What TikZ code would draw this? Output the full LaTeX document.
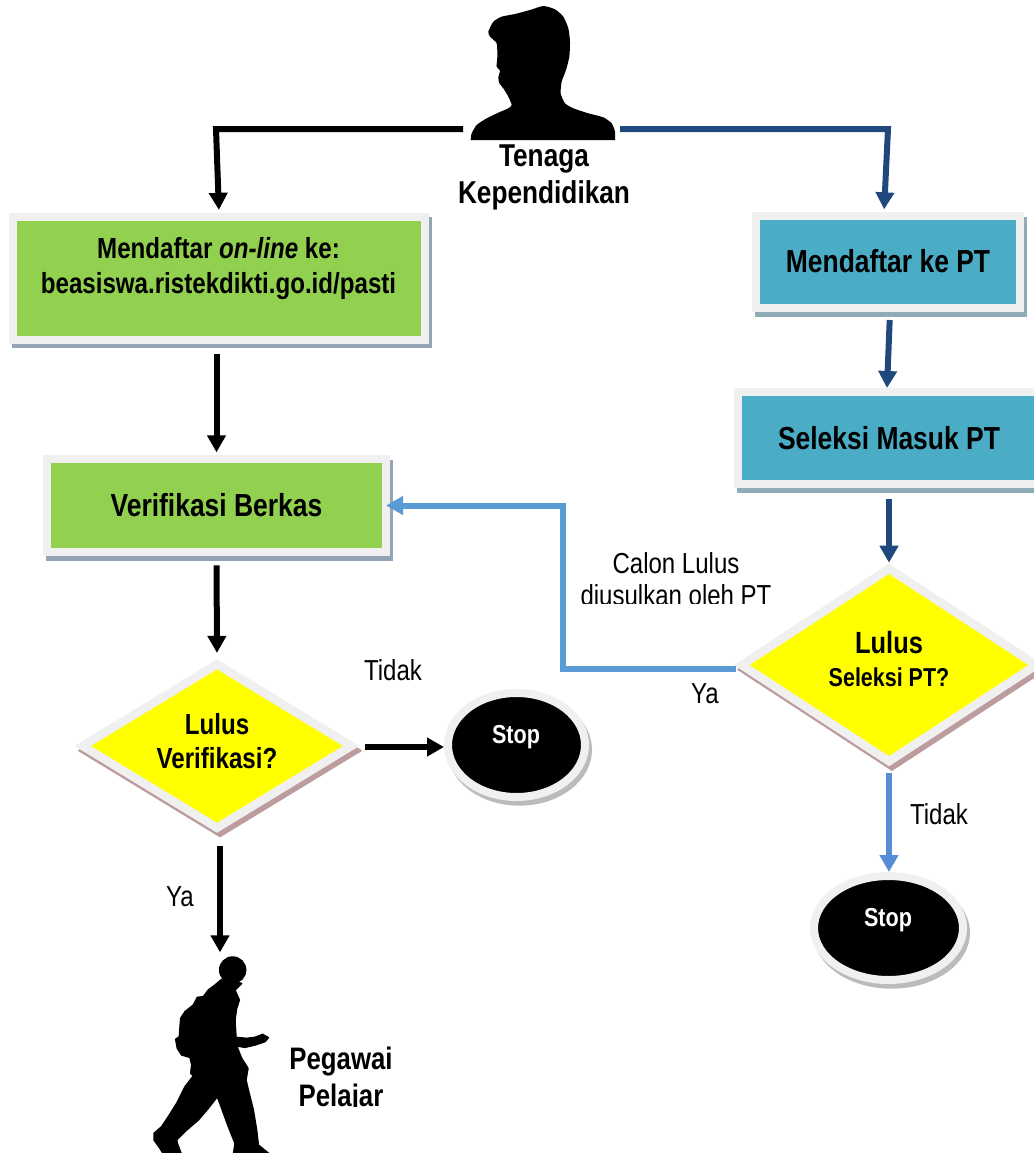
\documentclass[tikz,border=0pt]{standalone}
\usepackage{fontspec}
\setmainfont[FakeStretch=0.83]{Liberation Sans}
\usetikzlibrary{shapes.geometric,arrows.meta}
\definecolor{panelgrey}{HTML}{F0F0F0}
\definecolor{leaf}{HTML}{92D050}
\definecolor{teal}{HTML}{4BACC6}
\definecolor{leafshadow}{HTML}{95A3B7}
\definecolor{tealshadow}{HTML}{8FABB5}
\definecolor{roseshadow}{HTML}{BC9C9C}
\definecolor{greyshadow}{HTML}{BBBBBB}
\definecolor{navy}{HTML}{1F497D}
\definecolor{skyline}{HTML}{5B9BD5}
\definecolor{skydown}{HTML}{558ED5}
\definecolor{lemon}{HTML}{FFFF00}
\tikzset{
  cast/.style={preaction={draw=#1,fill=#1,transform canvas={xshift=2.25pt,yshift=-3.5pt}}},
  panel/.style={rectangle,draw=panelgrey,line width=6pt,fill=#1,inner sep=0pt,font=\fontsize{23.9}{26}\selectfont\bfseries},
  choice/.style={diamond,draw=panelgrey,line width=6.4pt,fill=lemon,inner sep=0pt,aspect=1.6,cast=roseshadow},
  halt/.style={ellipse,draw=panelgrey,line width=6pt,fill=black,inner sep=0pt,cast=greyshadow},
  conn/.style={line width=4.5pt,-{Triangle[width=13.5pt,length=12.75pt]},miter limit=10},
  thin/.style={font=\fontsize{21.7}{24.5}\selectfont,align=center,inner sep=0pt},
  stoptext/.style={font=\fontsize{19.5}{22}\selectfont\bfseries,text=white,inner sep=0pt},
  hidden/.style={inner sep=0pt,outer sep=0pt}
}
\begin{document}
\begin{tikzpicture}[x=.75pt,y=-.75pt]
\useasboundingbox (0,0) rectangle (1034,1153);
\clip (0,0) rectangle (1034,1153);
\fill[white] (0,0) rectangle (1034,1153);

% boxes
\node[panel=leaf,cast=leafshadow,minimum width=412*.75pt,minimum height=123*.75pt] (box1) at (219,278) {};
\node[font=\fontsize{21.8}{26.2}\selectfont\bfseries,align=center,inner sep=0pt] (box1t) at (218.5,268.5) {Mendaftar \textit{on-line} ke:\\beasiswa.ristekdikti.go.id/pasti};
\node[panel=leaf,cast=leafshadow,minimum width=339*.75pt,minimum height=93*.75pt] (box2) at (216.5,505.5) {\raisebox{1.2pt}{Verifikasi Berkas}};
\node[panel=teal,cast=tealshadow,minimum width=264*.75pt,minimum height=92*.75pt] (box3) at (888,262) {\raisebox{1.2pt}{Mendaftar ke PT}};
\node[panel=teal,cast=tealshadow,minimum width=302*.75pt,minimum height=92*.75pt] (box4) at (889,438) {\raisebox{.8pt}{Seleksi Masuk PT}};

% decisions
\node[choice,minimum width=272*.75pt,minimum height=167*.75pt] (ld) at (217,746) {};
\node[font=\fontsize{21.8}{25.2}\selectfont\bfseries,align=center,inner sep=0pt] (ldt) at (217,741) {Lulus\\Verifikasi?};
\node[choice,minimum width=298*.75pt,minimum height=196*.75pt] (rd) at (889,665) {};
\node[font=\fontsize{23}{24.8}\selectfont\bfseries,align=center,inner sep=0pt] (rdt) at (889,659) {Lulus\\{\fontsize{19.4}{24.8}\selectfont Seleksi PT?}};

% stops
\node[halt,minimum width=137*.75pt,minimum height=104*.75pt] (lstop) at (516.5,745) {};
\node[stoptext] (lstopt) at (516,737) {Stop};
\node[halt,minimum width=149*.75pt,minimum height=104*.75pt] (rstop) at (888.5,928) {};
\node[stoptext] (rstopt) at (888,920) {Stop};

% person
\node[hidden,minimum width=157*.75pt,minimum height=124*.75pt] (person) at (541.5,67) {};
\begin{scope}[shift={(440,0)},x=.25pt,y=-.25pt]
\fill[black] plot[smooth,tension=.35] coordinates {(92,420) (95,400) (110,375) (140,355) (175,338) (205,325) (215,315) (205,290) (190,265) (178,250) (175,232) (180,212) (170,200) (172,170) (170,130) (150,110) (145,95) (160,65) (185,50) (225,42) (270,30) (310,18) (345,28) (370,50) (385,85) (390,125) (388,170) (378,210) (365,245) (362,280) (375,310) (400,325) (445,340) (490,352) (515,370) (525,395) (525,420)} -- cycle;
\end{scope}
\node[font=\fontsize{23.7}{27.75}\selectfont\bfseries,align=center,inner sep=0pt] (persont) at (544,177.5) {Tenaga\\Kependidikan};

% walker
\node[hidden,minimum width=120*.75pt,minimum height=196*.75pt] (walker) at (220,1053) {};
\begin{scope}[shift={(140,940)},x=.25pt,y=-.25pt]
\fill[black] (278,90) circle[radius=10.3pt];
\filldraw[black,line width=1.1pt,line join=round] (245,118) -- (225,135) -- (205,150) -- (190,170) -- (172,172) -- (160,195) -- (135,215) -- (122,235) -- (118,290) -- (107,298) -- (112,325) -- (125,345) -- (150,352) -- (155,375) -- (152,400) -- (160,408) -- (135,440) -- (110,490) -- (85,530) -- (65,560) -- (42,580) -- (42,600) -- (60,625) -- (72,645) -- (125,645) -- (112,610) -- (110,600) -- (140,570) -- (175,540) -- (205,505) -- (232,470) -- (245,505) -- (265,560) -- (285,610) -- (280,645) -- (392,645) -- (355,615) -- (350,570) -- (340,510) -- (325,450) -- (318,420) -- (324,385) -- (305,355) -- (290,318) -- (315,322) -- (345,315) -- (375,305) -- (385,293) -- (368,283) -- (345,292) -- (320,295) -- (288,292) -- (285,240) -- (290,205) -- (298,180) -- (285,150) -- (305,130) -- cycle;
\end{scope}
\begin{scope}
\clip (270,1030) rectangle (410,1106);
\node[font=\fontsize{23.3}{27.75}\selectfont\bfseries,align=center,inner sep=0pt] (walkert) at (341,1079.5) {Pegawai\\Pelajar};
\end{scope}

% labels
\begin{scope}
\clip (560,530) rectangle (790,603.5);
\node[thin] (calon) at (676,579) {Calon Lulus\\diusulkan oleh PT};
\end{scope}
\node[thin] (t1) at (393,670) {Tidak};
\node[thin] (t2) at (939,814) {Tidak};
\node[thin] (y1) at (705,694) {Ya};
\node[thin] (y2) at (180,897) {Ya};

% connector bends
\coordinate (b1) at (216,129);
\coordinate (b2) at (888,129);
\coordinate (b3) at (563,669);
\coordinate (b4) at (563,505.5);

% connectors
\draw[conn,draw=black,shorten >=2pt] (person.south west) -- (b1) -- (box1.north);
\draw[conn,draw=navy,shorten >=2pt] (person.south east) -- (b2) -- ([xshift=-3pt]box3.north);
\draw[conn,draw=black,shorten <=8pt,shorten >=2pt] (box2.north |- box1.south) -- (box2.north);
\draw[conn,draw=navy,shorten <=6pt] ([xshift=1.5pt]box3.south) -- ([xshift=-1.5pt]box4.north);
\draw[conn,draw=navy,shorten <=8pt] (box4.south) -- (rd.north);
\draw[conn,draw=black,shorten <=7pt,shorten >=4pt] (box2.south) -- (ld.north);
\draw[conn,draw=black,shorten <=6pt] ([yshift=-.75pt]ld.east) -- ([yshift=-.75pt]ld.east -| lstop.west);
\draw[conn,draw=black,shorten <=9pt,shorten >=2pt] ([xshift=2.25pt]ld.south) -- ([xshift=2.25pt]ld.south |- walker.north);
\draw[conn,draw=skyline,shorten >=-3pt] ([yshift=-3pt]rd.west) -- (b3) -- (b4) -- (box2.east);
\draw[conn,draw=skydown,shorten <=4pt] (rd.south) -- (rd.south |- rstop.north);
\end{tikzpicture}
\end{document}
